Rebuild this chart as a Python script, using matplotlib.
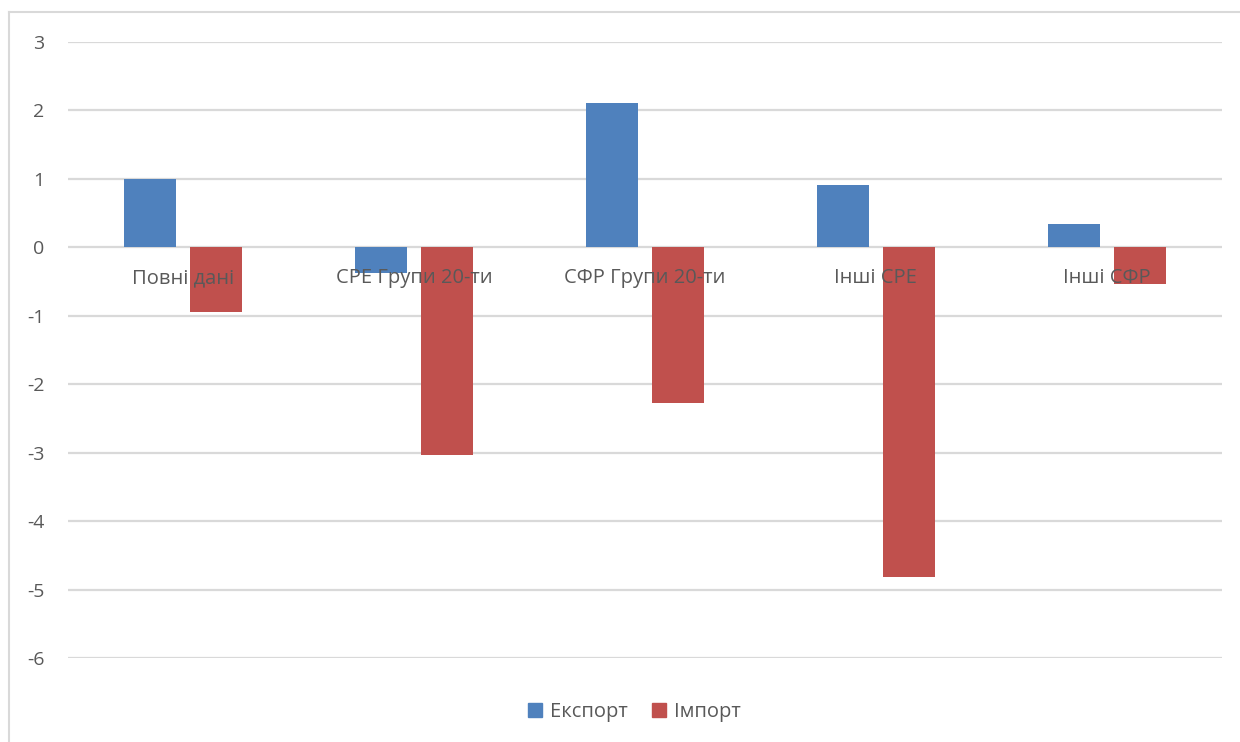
import numpy as np
import matplotlib.pyplot as plt
from matplotlib.lines import Line2D
from matplotlib.patches import Patch
from matplotlib.transforms import offset_copy

categories = ["Повні дані", "СРЕ Групи 20-ти", "СФР Групи 20-ти", "Інші СРЕ", "Інші СФР"]
export_vals = [1.00, -0.37, 2.11, 0.91, 0.34]
import_vals = [-0.94, -3.04, -2.28, -4.81, -0.54]
y_ticks = [3, 2, 1, 0, -1, -2, -3, -4, -5, -6]

blue = "#4F81BD"
red = "#C0504D"
grid_c = "#D9D9D9"
text_c = "#595959"

plt.rcParams['font.family'] = ['Open Sans', 'DejaVu Sans']

fig = plt.figure(figsize=(12.4, 7.42), dpi=100)
ax = fig.add_axes([68 / 1240, 1 - 658 / 742, (1222 - 68) / 1240, (658 - 42) / 742])

x = np.arange(len(categories))
w = 0.225
off = 0.143
ax.bar(x - off, export_vals, w, color=blue, zorder=2)
ax.bar(x + off, import_vals, w, color=red, zorder=2)

ax.set_xlim(-0.5, len(categories) - 0.5)
ax.set_ylim(-6, 3)
ax.set_yticks(y_ticks)
ax.set_yticklabels([str(v) for v in y_ticks])
ax.tick_params(axis='y', length=0, pad=17, labelsize=14, labelcolor=text_c)
ax.set_xticks([])
for s in ax.spines.values():
    s.set_visible(False)

# horizontal gridlines behind the bars
for v in y_ticks:
    ax.axhline(v, color=grid_c, lw=1.6, zorder=0)

# category labels sit just under the zero line, over the bars
lab_tr = offset_copy(ax.transData, fig=fig, y=-21, units='dots')
for xi, name in zip(x, categories):
    ax.text(xi, 0, name, ha='center', va='top', fontsize=14.5, color=text_c,
            transform=lab_tr, zorder=5)

handles = [Patch(color=blue, label="Експорт"), Patch(color=red, label="Імпорт")]
fig.legend(handles=handles, loc='center', bbox_to_anchor=(634 / 1240, 1 - 712 / 742),
           ncol=2, frameon=False, fontsize=14.5, handlelength=0.7, handleheight=0.7,
           handletextpad=0.4, columnspacing=1.2, labelcolor=text_c)

# chart frame on the left and top
fig.add_artist(Line2D([9 / 1240, 9 / 1240], [0, 1 - 12 / 742], color=grid_c, lw=1.5))
fig.add_artist(Line2D([9 / 1240, 1], [1 - 12 / 742, 1 - 12 / 742], color=grid_c, lw=1.5))

fig.savefig("out.png", dpi=100, facecolor="white")
